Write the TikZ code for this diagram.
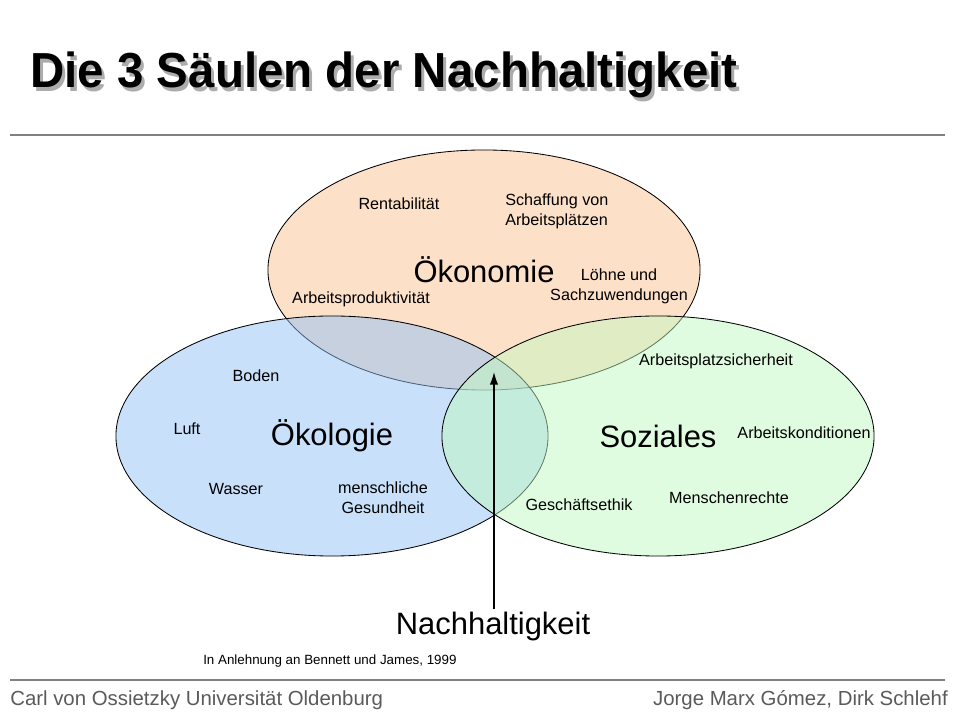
\documentclass[tikz,border=0pt]{standalone}
\usepackage{fontspec}
\setmainfont{Liberation Sans}
\usetikzlibrary{shapes.geometric,arrows.meta}

\definecolor{oekonomie}{RGB}{251,193,145}
\definecolor{oekologie}{RGB}{145,193,245}
\definecolor{soziales}{RGB}{193,249,193}
\definecolor{rulegray}{RGB}{128,128,128}
\definecolor{footgray}{RGB}{90,90,90}

\newcommand{\shadowtitle}[1]{\rlap{\kern2.2pt\raisebox{-2.2pt}{\textcolor{gray!65}{#1}}}#1}

\tikzset{
  pillar/.style={ellipse, draw, line width=0.6pt, minimum width=10.8cm, minimum height=6cm,
    inner sep=0pt, fill opacity=0.5, text opacity=1, font=\fontsize{22}{26}\selectfont},
  aspect/.style={font=\fontsize{11.5}{14.2}\selectfont, align=center, inner sep=0pt},
  rule/.style={rulegray, line width=1.4pt},
  footer/.style={font=\fontsize{14.5}{17}\selectfont, text=footgray, inner sep=0pt},
}

\begin{document}
\begin{tikzpicture}[x=0.025cm, y=-0.025cm]
    \useasboundingbox (0, 0) rectangle (960, 720);
    \node[anchor=base west, inner sep=0pt, xscale=0.965, font=\fontsize{35}{40}\selectfont\bfseries] (Title) at (30, 88) {\shadowtitle{Die 3 Säulen der Nachhaltigkeit}};
    \draw[rule] (10, 135) -- (945, 135);
    \node[pillar, fill=oekonomie] (Oekonomie) at (484, 270) {Ökonomie};
    \node[pillar, fill=oekologie] (Oekologie) at (332, 436) {Ökologie};
    \node[pillar, fill=soziales] (Soziales) at (658, 436) {Soziales};
    \node[aspect] (Rentabilitaet) at (399, 204) {Rentabilität};
    \node[aspect, align=left, anchor=west] (Arbeitsplaetze) at (505, 211) {Schaffung von\\Arbeitsplätzen};
    \node[aspect] (Loehne) at (619, 286) {Löhne und\\Sachzuwendungen};
    \node[aspect] (Produktivitaet) at (361, 299) {Arbeitsproduktivität};
    \node[aspect] (Boden) at (256, 376) {Boden};
    \node[aspect] (Luft) at (187, 429) {Luft};
    \node[aspect] (Wasser) at (236, 489) {Wasser};
    \node[aspect] (Gesundheit) at (383, 498) {menschliche\\Gesundheit};
    \node[aspect] (Sicherheit) at (716, 361) {Arbeitsplatzsicherheit};
    \node[aspect] (Konditionen) at (804, 433) {Arbeitskonditionen};
    \node[aspect] (Ethik) at (579, 505) {Geschäftsethik};
    \node[aspect] (Menschenrechte) at (729, 498) {Menschenrechte};
    \coordinate (Kern) at (494, 372);
    \node[font=\fontsize{22}{26}\selectfont, inner sep=2pt] (Nachhaltigkeit) at (493, 627) {Nachhaltigkeit};
    \draw[-{Latex[length=9pt, width=6pt]}, line width=1pt] (Nachhaltigkeit.north -| Kern) -- (Kern);
    \node[anchor=base west, inner sep=0pt, font=\fontsize{9.5}{11}\selectfont] (Quelle) at (203, 664) {In Anlehnung an Bennett und James, 1999};
    \draw[rule] (10, 680) -- (945, 680);
    \node[footer, anchor=base west] (Uni) at (10, 705) {Carl von Ossietzky Universität Oldenburg};
    \node[footer, anchor=base east] (Autoren) at (948, 705) {Jorge Marx Gómez, Dirk Schlehf};
  \end{tikzpicture}
\end{document}
